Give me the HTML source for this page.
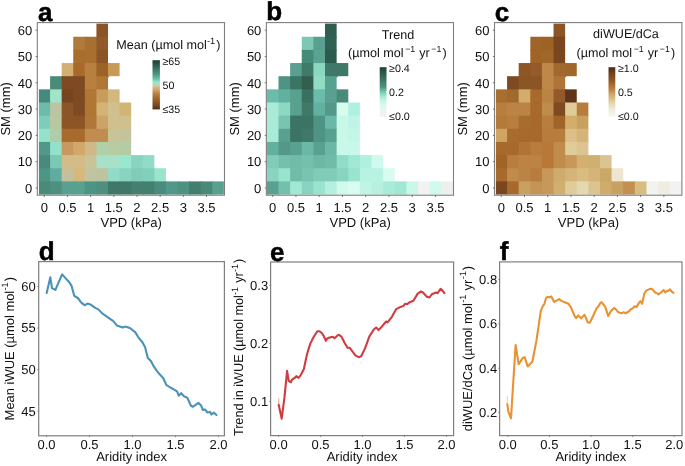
<!DOCTYPE html>
<html><head><meta charset="utf-8"><title>Figure</title>
<style>
html,body{margin:0;padding:0;background:#fff;}
body{width:685px;height:466px;overflow:hidden;font-family:"Liberation Sans", sans-serif;}
svg{display:block;will-change:transform;}
</style></head><body>
<svg width="685" height="466" viewBox="0 0 685 466" font-family='"Liberation Sans", sans-serif' fill="#111" text-rendering="geometricPrecision"><rect x="96.43" y="23.60" width="11.59" height="14.15" fill="#8A5428"/>
<rect x="73.25" y="36.75" width="12.59" height="14.15" fill="#B07A3A"/>
<rect x="84.84" y="36.75" width="12.59" height="14.15" fill="#A8702F"/>
<rect x="96.43" y="36.75" width="11.59" height="14.15" fill="#93592A"/>
<rect x="73.25" y="49.90" width="12.59" height="14.15" fill="#A86E2D"/>
<rect x="84.84" y="49.90" width="12.59" height="14.15" fill="#A86F30"/>
<rect x="96.43" y="49.90" width="11.59" height="14.15" fill="#8B5526"/>
<rect x="61.67" y="63.05" width="12.59" height="14.15" fill="#D2B072"/>
<rect x="73.25" y="63.05" width="12.59" height="14.15" fill="#A86A2A"/>
<rect x="84.84" y="63.05" width="12.59" height="14.15" fill="#B88040"/>
<rect x="96.43" y="63.05" width="12.59" height="14.15" fill="#9C6226"/>
<rect x="108.01" y="63.05" width="11.59" height="13.15" fill="#C89A58"/>
<rect x="50.09" y="76.20" width="12.59" height="14.15" fill="#4A8A78"/>
<rect x="61.67" y="76.20" width="12.59" height="14.15" fill="#7D4A24"/>
<rect x="73.25" y="76.20" width="12.59" height="14.15" fill="#7D4A24"/>
<rect x="84.84" y="76.20" width="12.59" height="14.15" fill="#B8803E"/>
<rect x="96.43" y="76.20" width="11.59" height="14.15" fill="#B07636"/>
<rect x="38.90" y="89.35" width="12.19" height="14.15" fill="#458A7A"/>
<rect x="50.09" y="89.35" width="12.59" height="14.15" fill="#A0E4CC"/>
<rect x="61.67" y="89.35" width="12.59" height="14.15" fill="#74451F"/>
<rect x="73.25" y="89.35" width="12.59" height="14.15" fill="#7D4A22"/>
<rect x="84.84" y="89.35" width="12.59" height="14.15" fill="#B07634"/>
<rect x="96.43" y="89.35" width="12.59" height="14.15" fill="#C89C5C"/>
<rect x="108.01" y="89.35" width="11.59" height="14.15" fill="#D2B87C"/>
<rect x="38.90" y="102.50" width="12.19" height="14.15" fill="#6CBCAC"/>
<rect x="50.09" y="102.50" width="12.59" height="14.15" fill="#BCC4A0"/>
<rect x="61.67" y="102.50" width="12.59" height="14.15" fill="#8B5528"/>
<rect x="73.25" y="102.50" width="12.59" height="14.15" fill="#7E4A22"/>
<rect x="84.84" y="102.50" width="12.59" height="14.15" fill="#B07634"/>
<rect x="96.43" y="102.50" width="12.59" height="14.15" fill="#D4B474"/>
<rect x="108.01" y="102.50" width="12.59" height="14.15" fill="#CFC08E"/>
<rect x="119.59" y="102.50" width="11.59" height="14.15" fill="#D2B474"/>
<rect x="38.90" y="115.65" width="12.19" height="14.15" fill="#7DCDB8"/>
<rect x="50.09" y="115.65" width="12.59" height="14.15" fill="#B8C8A0"/>
<rect x="61.67" y="115.65" width="12.59" height="14.15" fill="#8B5526"/>
<rect x="73.25" y="115.65" width="12.59" height="14.15" fill="#8B5526"/>
<rect x="84.84" y="115.65" width="12.59" height="14.15" fill="#B0763A"/>
<rect x="96.43" y="115.65" width="12.59" height="14.15" fill="#CCA468"/>
<rect x="108.01" y="115.65" width="12.59" height="14.15" fill="#CFC08E"/>
<rect x="119.59" y="115.65" width="11.59" height="14.15" fill="#CFC08E"/>
<rect x="38.90" y="128.80" width="12.19" height="14.15" fill="#93E3CB"/>
<rect x="50.09" y="128.80" width="12.59" height="14.15" fill="#B0CCA8"/>
<rect x="61.67" y="128.80" width="12.59" height="14.15" fill="#A86A2D"/>
<rect x="73.25" y="128.80" width="12.59" height="14.15" fill="#A86A2D"/>
<rect x="84.84" y="128.80" width="12.59" height="14.15" fill="#C08C50"/>
<rect x="96.43" y="128.80" width="12.59" height="14.15" fill="#C08C50"/>
<rect x="108.01" y="128.80" width="12.59" height="14.15" fill="#C8C498"/>
<rect x="119.59" y="128.80" width="11.59" height="14.15" fill="#C4C49C"/>
<rect x="38.90" y="141.95" width="12.19" height="14.15" fill="#509888"/>
<rect x="50.09" y="141.95" width="12.59" height="14.15" fill="#93E0CB"/>
<rect x="61.67" y="141.95" width="12.59" height="14.15" fill="#C89860"/>
<rect x="73.25" y="141.95" width="12.59" height="14.15" fill="#D0A868"/>
<rect x="84.84" y="141.95" width="12.59" height="14.15" fill="#D0B888"/>
<rect x="96.43" y="141.95" width="12.59" height="14.15" fill="#B0D0A8"/>
<rect x="108.01" y="141.95" width="12.59" height="14.15" fill="#B8CCA4"/>
<rect x="119.59" y="141.95" width="11.59" height="14.15" fill="#B4CCA4"/>
<rect x="38.90" y="155.10" width="12.19" height="14.15" fill="#4A8A7A"/>
<rect x="50.09" y="155.10" width="12.59" height="14.15" fill="#7BC8B4"/>
<rect x="61.67" y="155.10" width="12.59" height="14.15" fill="#D4BC88"/>
<rect x="73.25" y="155.10" width="12.59" height="14.15" fill="#D4BC88"/>
<rect x="84.84" y="155.10" width="12.59" height="14.15" fill="#C8C498"/>
<rect x="96.43" y="155.10" width="12.59" height="14.15" fill="#A8E0C8"/>
<rect x="108.01" y="155.10" width="12.59" height="14.15" fill="#A8E0C8"/>
<rect x="119.59" y="155.10" width="12.59" height="14.15" fill="#98E8D0"/>
<rect x="131.18" y="155.10" width="12.59" height="14.15" fill="#88D4C0"/>
<rect x="142.77" y="155.10" width="11.59" height="14.15" fill="#90DCC8"/>
<rect x="38.90" y="168.25" width="12.19" height="14.15" fill="#4E9585"/>
<rect x="50.09" y="168.25" width="12.59" height="14.15" fill="#60ADA0"/>
<rect x="61.67" y="168.25" width="12.59" height="14.15" fill="#C4C09C"/>
<rect x="73.25" y="168.25" width="12.59" height="14.15" fill="#D6B87C"/>
<rect x="84.84" y="168.25" width="12.59" height="14.15" fill="#C0C4A0"/>
<rect x="96.43" y="168.25" width="12.59" height="14.15" fill="#BCC4A0"/>
<rect x="108.01" y="168.25" width="12.59" height="14.15" fill="#90DCC8"/>
<rect x="119.59" y="168.25" width="12.59" height="14.15" fill="#88D4C0"/>
<rect x="131.18" y="168.25" width="12.59" height="14.15" fill="#80CCB8"/>
<rect x="142.77" y="168.25" width="12.59" height="14.15" fill="#80D0BC"/>
<rect x="154.35" y="168.25" width="11.59" height="14.15" fill="#98E4CC"/>
<rect x="38.90" y="181.40" width="12.19" height="13.15" fill="#4A8A78"/>
<rect x="50.09" y="181.40" width="12.59" height="13.15" fill="#4E9080"/>
<rect x="61.67" y="181.40" width="12.59" height="13.15" fill="#58A090"/>
<rect x="73.25" y="181.40" width="12.59" height="13.15" fill="#58A090"/>
<rect x="84.84" y="181.40" width="12.59" height="13.15" fill="#4E9484"/>
<rect x="96.43" y="181.40" width="12.59" height="13.15" fill="#4E9080"/>
<rect x="108.01" y="181.40" width="12.59" height="13.15" fill="#3F7868"/>
<rect x="119.59" y="181.40" width="12.59" height="13.15" fill="#3F7868"/>
<rect x="131.18" y="181.40" width="12.59" height="13.15" fill="#44806E"/>
<rect x="142.77" y="181.40" width="12.59" height="13.15" fill="#44806E"/>
<rect x="154.35" y="181.40" width="12.59" height="13.15" fill="#4A8C7C"/>
<rect x="165.94" y="181.40" width="12.59" height="13.15" fill="#52988A"/>
<rect x="177.52" y="181.40" width="12.59" height="13.15" fill="#4E9282"/>
<rect x="189.11" y="181.40" width="12.59" height="13.15" fill="#447E6E"/>
<rect x="200.69" y="181.40" width="12.59" height="13.15" fill="#4A8878"/>
<rect x="212.28" y="181.40" width="11.59" height="13.15" fill="#5AA08F"/>
<rect x="37.30" y="22.60" width="187.20" height="172.60" fill="none" stroke="#7f7f7f" stroke-width="1.1"/>
<line x1="35.70" y1="30.18" x2="37.30" y2="30.18" stroke="#555" stroke-width="0.8"/>
<text x="32.30" y="34.98" font-size="13" text-anchor="end" font-weight="normal" >60</text>
<line x1="35.70" y1="56.48" x2="37.30" y2="56.48" stroke="#555" stroke-width="0.8"/>
<text x="32.30" y="61.28" font-size="13" text-anchor="end" font-weight="normal" >50</text>
<line x1="35.70" y1="82.78" x2="37.30" y2="82.78" stroke="#555" stroke-width="0.8"/>
<text x="32.30" y="87.58" font-size="13" text-anchor="end" font-weight="normal" >40</text>
<line x1="35.70" y1="109.08" x2="37.30" y2="109.08" stroke="#555" stroke-width="0.8"/>
<text x="32.30" y="113.88" font-size="13" text-anchor="end" font-weight="normal" >30</text>
<line x1="35.70" y1="135.38" x2="37.30" y2="135.38" stroke="#555" stroke-width="0.8"/>
<text x="32.30" y="140.18" font-size="13" text-anchor="end" font-weight="normal" >20</text>
<line x1="35.70" y1="161.67" x2="37.30" y2="161.67" stroke="#555" stroke-width="0.8"/>
<text x="32.30" y="166.47" font-size="13" text-anchor="end" font-weight="normal" >10</text>
<line x1="35.70" y1="187.97" x2="37.30" y2="187.97" stroke="#555" stroke-width="0.8"/>
<text x="32.30" y="192.78" font-size="13" text-anchor="end" font-weight="normal" >0</text>
<line x1="44.29" y1="195.20" x2="44.29" y2="197.00" stroke="#555" stroke-width="0.8"/>
<text x="44.29" y="211.60" font-size="13" text-anchor="middle" font-weight="normal" >0</text>
<line x1="67.46" y1="195.20" x2="67.46" y2="197.00" stroke="#555" stroke-width="0.8"/>
<text x="67.46" y="211.60" font-size="13" text-anchor="middle" font-weight="normal" >0.5</text>
<line x1="90.63" y1="195.20" x2="90.63" y2="197.00" stroke="#555" stroke-width="0.8"/>
<text x="90.63" y="211.60" font-size="13" text-anchor="middle" font-weight="normal" >1</text>
<line x1="113.80" y1="195.20" x2="113.80" y2="197.00" stroke="#555" stroke-width="0.8"/>
<text x="113.80" y="211.60" font-size="13" text-anchor="middle" font-weight="normal" >1.5</text>
<line x1="136.97" y1="195.20" x2="136.97" y2="197.00" stroke="#555" stroke-width="0.8"/>
<text x="136.97" y="211.60" font-size="13" text-anchor="middle" font-weight="normal" >2</text>
<line x1="160.14" y1="195.20" x2="160.14" y2="197.00" stroke="#555" stroke-width="0.8"/>
<text x="160.14" y="211.60" font-size="13" text-anchor="middle" font-weight="normal" >2.5</text>
<line x1="183.31" y1="195.20" x2="183.31" y2="197.00" stroke="#555" stroke-width="0.8"/>
<text x="183.31" y="211.60" font-size="13" text-anchor="middle" font-weight="normal" >3</text>
<line x1="206.48" y1="195.20" x2="206.48" y2="197.00" stroke="#555" stroke-width="0.8"/>
<text x="206.48" y="211.60" font-size="13" text-anchor="middle" font-weight="normal" >3.5</text>
<text x="131.20" y="226.70" font-size="13" text-anchor="middle" font-weight="normal" >VPD (kPa)</text>
<text x="0" y="0" font-size="13" text-anchor="middle" transform="translate(9.80,108.90) rotate(-90)">SM (mm)</text>
<text x="37.90" y="20.60" font-size="26" text-anchor="start" font-weight="bold" fill="#000" stroke="#000" stroke-width="0.5">a</text>
<defs><linearGradient id="g0" x1="0" y1="0" x2="0" y2="1"><stop offset="0" stop-color="#1D3D35"/><stop offset="0.1" stop-color="#2A5A4C"/><stop offset="0.19" stop-color="#3A7868"/><stop offset="0.29" stop-color="#4E9886"/><stop offset="0.38" stop-color="#6CC0AA"/><stop offset="0.44" stop-color="#90E6CC"/><stop offset="0.49" stop-color="#B8D8B8"/><stop offset="0.53" stop-color="#D2C29C"/><stop offset="0.6" stop-color="#D0A466"/><stop offset="0.67" stop-color="#BC8444"/><stop offset="0.76" stop-color="#A86A2C"/><stop offset="0.86" stop-color="#8B5526"/><stop offset="0.95" stop-color="#6A3E1C"/><stop offset="1" stop-color="#4A2A12"/></linearGradient></defs>
<rect x="152.50" y="60.20" width="7.40" height="49.20" fill="url(#g0)"/>
<text x="162.50" y="64.50" font-size="10.7" text-anchor="start" font-weight="normal" >≥65</text>
<text x="162.50" y="89.00" font-size="10.7" text-anchor="start" font-weight="normal" >50</text>
<text x="162.50" y="112.90" font-size="10.7" text-anchor="start" font-weight="normal" >≤35</text>
<text x="116.20" y="49.20" font-size="12.6" text-anchor="start">Mean (µmol mol<tspan dx="0.3" dy="-5.6" font-size="9.2">-1</tspan><tspan dx="1.0" dy="5.6">)</tspan></text>
<rect x="325.01" y="23.60" width="11.63" height="14.15" fill="#2E5E50"/>
<rect x="301.76" y="36.75" width="12.63" height="14.15" fill="#7CC8B4"/>
<rect x="313.38" y="36.75" width="12.63" height="14.15" fill="#5AA090"/>
<rect x="325.01" y="36.75" width="11.63" height="14.15" fill="#2F6152"/>
<rect x="301.76" y="49.90" width="12.63" height="14.15" fill="#468A78"/>
<rect x="313.38" y="49.90" width="12.63" height="14.15" fill="#5AA292"/>
<rect x="325.01" y="49.90" width="11.63" height="14.15" fill="#2C5A4C"/>
<rect x="290.13" y="63.05" width="12.63" height="14.15" fill="#5AA090"/>
<rect x="301.76" y="63.05" width="12.63" height="14.15" fill="#3F7A6A"/>
<rect x="313.38" y="63.05" width="12.63" height="14.15" fill="#8AD8C0"/>
<rect x="325.01" y="63.05" width="12.63" height="14.15" fill="#3F7868"/>
<rect x="336.64" y="63.05" width="11.63" height="13.15" fill="#3F7868"/>
<rect x="278.51" y="76.20" width="12.63" height="14.15" fill="#4E9484"/>
<rect x="290.13" y="76.20" width="12.63" height="14.15" fill="#3C7464"/>
<rect x="301.76" y="76.20" width="12.63" height="14.15" fill="#345E50"/>
<rect x="313.38" y="76.20" width="12.63" height="14.15" fill="#90DCC4"/>
<rect x="325.01" y="76.20" width="11.63" height="14.15" fill="#58A090"/>
<rect x="266.90" y="89.35" width="12.61" height="14.15" fill="#6CBCAC"/>
<rect x="278.51" y="89.35" width="12.63" height="14.15" fill="#62B0A0"/>
<rect x="290.13" y="89.35" width="12.63" height="14.15" fill="#58A090"/>
<rect x="301.76" y="89.35" width="12.63" height="14.15" fill="#3A7060"/>
<rect x="313.38" y="89.35" width="12.63" height="14.15" fill="#6CBCAC"/>
<rect x="325.01" y="89.35" width="12.63" height="14.15" fill="#5AA090"/>
<rect x="336.64" y="89.35" width="11.63" height="14.15" fill="#4A8A78"/>
<rect x="266.90" y="102.50" width="12.61" height="14.15" fill="#A8ECD8"/>
<rect x="278.51" y="102.50" width="12.63" height="14.15" fill="#8CD8C0"/>
<rect x="290.13" y="102.50" width="12.63" height="14.15" fill="#58A090"/>
<rect x="301.76" y="102.50" width="12.63" height="14.15" fill="#3F7A68"/>
<rect x="313.38" y="102.50" width="12.63" height="14.15" fill="#62B0A0"/>
<rect x="325.01" y="102.50" width="12.63" height="14.15" fill="#54988A"/>
<rect x="336.64" y="102.50" width="12.63" height="14.15" fill="#D8FCEE"/>
<rect x="348.26" y="102.50" width="11.63" height="14.15" fill="#B0F0E0"/>
<rect x="266.90" y="115.65" width="12.61" height="14.15" fill="#A8ECD8"/>
<rect x="278.51" y="115.65" width="12.63" height="14.15" fill="#78C4B0"/>
<rect x="290.13" y="115.65" width="12.63" height="14.15" fill="#3C7464"/>
<rect x="301.76" y="115.65" width="12.63" height="14.15" fill="#3C7464"/>
<rect x="313.38" y="115.65" width="12.63" height="14.15" fill="#4E9484"/>
<rect x="325.01" y="115.65" width="12.63" height="14.15" fill="#6CB8A8"/>
<rect x="336.64" y="115.65" width="12.63" height="14.15" fill="#C8F8E8"/>
<rect x="348.26" y="115.65" width="11.63" height="14.15" fill="#C0F4E4"/>
<rect x="266.90" y="128.80" width="12.61" height="14.15" fill="#A8ECD8"/>
<rect x="278.51" y="128.80" width="12.63" height="14.15" fill="#5AA090"/>
<rect x="290.13" y="128.80" width="12.63" height="14.15" fill="#3C7464"/>
<rect x="301.76" y="128.80" width="12.63" height="14.15" fill="#3F7868"/>
<rect x="313.38" y="128.80" width="12.63" height="14.15" fill="#4E9484"/>
<rect x="325.01" y="128.80" width="12.63" height="14.15" fill="#58A090"/>
<rect x="336.64" y="128.80" width="12.63" height="14.15" fill="#C8F8E8"/>
<rect x="348.26" y="128.80" width="11.63" height="14.15" fill="#C4F6E6"/>
<rect x="266.90" y="141.95" width="12.61" height="14.15" fill="#62B0A0"/>
<rect x="278.51" y="141.95" width="12.63" height="14.15" fill="#54988A"/>
<rect x="290.13" y="141.95" width="12.63" height="14.15" fill="#58A090"/>
<rect x="301.76" y="141.95" width="12.63" height="14.15" fill="#6CB8A8"/>
<rect x="313.38" y="141.95" width="12.63" height="14.15" fill="#5AA090"/>
<rect x="325.01" y="141.95" width="12.63" height="14.15" fill="#6CB8A8"/>
<rect x="336.64" y="141.95" width="12.63" height="14.15" fill="#C8F8E8"/>
<rect x="348.26" y="141.95" width="11.63" height="14.15" fill="#C8F8E8"/>
<rect x="266.90" y="155.10" width="12.61" height="14.15" fill="#80CCB8"/>
<rect x="278.51" y="155.10" width="12.63" height="14.15" fill="#74C0AC"/>
<rect x="290.13" y="155.10" width="12.63" height="14.15" fill="#70BCA8"/>
<rect x="301.76" y="155.10" width="12.63" height="14.15" fill="#74C0AC"/>
<rect x="313.38" y="155.10" width="12.63" height="14.15" fill="#6CB8A8"/>
<rect x="325.01" y="155.10" width="12.63" height="14.15" fill="#70BCA8"/>
<rect x="336.64" y="155.10" width="12.63" height="14.15" fill="#90DCC8"/>
<rect x="348.26" y="155.10" width="12.63" height="14.15" fill="#A0E8D4"/>
<rect x="359.89" y="155.10" width="12.63" height="14.15" fill="#B0F0E0"/>
<rect x="371.51" y="155.10" width="11.63" height="14.15" fill="#D0FAEE"/>
<rect x="266.90" y="168.25" width="12.61" height="14.15" fill="#88D4C0"/>
<rect x="278.51" y="168.25" width="12.63" height="14.15" fill="#98E4CC"/>
<rect x="290.13" y="168.25" width="12.63" height="14.15" fill="#70BCA8"/>
<rect x="301.76" y="168.25" width="12.63" height="14.15" fill="#78C4B0"/>
<rect x="313.38" y="168.25" width="12.63" height="14.15" fill="#80CCB8"/>
<rect x="325.01" y="168.25" width="12.63" height="14.15" fill="#80CCB8"/>
<rect x="336.64" y="168.25" width="12.63" height="14.15" fill="#88D4C0"/>
<rect x="348.26" y="168.25" width="12.63" height="14.15" fill="#98E4CC"/>
<rect x="359.89" y="168.25" width="12.63" height="14.15" fill="#B8F2E2"/>
<rect x="371.51" y="168.25" width="12.63" height="14.15" fill="#B8F2E2"/>
<rect x="383.14" y="168.25" width="11.63" height="14.15" fill="#D8FCF0"/>
<rect x="266.90" y="181.40" width="12.61" height="13.15" fill="#5AA090"/>
<rect x="278.51" y="181.40" width="12.63" height="13.15" fill="#74C0AC"/>
<rect x="290.13" y="181.40" width="12.63" height="13.15" fill="#A0E8D4"/>
<rect x="301.76" y="181.40" width="12.63" height="13.15" fill="#88D4C0"/>
<rect x="313.38" y="181.40" width="12.63" height="13.15" fill="#98E4CC"/>
<rect x="325.01" y="181.40" width="12.63" height="13.15" fill="#B4F0E0"/>
<rect x="336.64" y="181.40" width="12.63" height="13.15" fill="#D0FAEC"/>
<rect x="348.26" y="181.40" width="12.63" height="13.15" fill="#D8FCF0"/>
<rect x="359.89" y="181.40" width="12.63" height="13.15" fill="#C0F4E4"/>
<rect x="371.51" y="181.40" width="12.63" height="13.15" fill="#B8F0E0"/>
<rect x="383.14" y="181.40" width="12.63" height="13.15" fill="#A8ECD8"/>
<rect x="394.77" y="181.40" width="12.63" height="13.15" fill="#A0E8D4"/>
<rect x="406.39" y="181.40" width="12.63" height="13.15" fill="#C8F8E8"/>
<rect x="418.02" y="181.40" width="12.63" height="13.15" fill="#F2F2F0"/>
<rect x="429.64" y="181.40" width="12.63" height="13.15" fill="#D0FAEE"/>
<rect x="441.27" y="181.40" width="11.63" height="13.15" fill="#EEF0EE"/>
<rect x="266.35" y="22.60" width="187.15" height="172.60" fill="none" stroke="#7f7f7f" stroke-width="1.1"/>
<line x1="264.75" y1="30.18" x2="266.35" y2="30.18" stroke="#555" stroke-width="0.8"/>
<text x="261.35" y="34.98" font-size="13" text-anchor="end" font-weight="normal" >60</text>
<line x1="264.75" y1="56.48" x2="266.35" y2="56.48" stroke="#555" stroke-width="0.8"/>
<text x="261.35" y="61.28" font-size="13" text-anchor="end" font-weight="normal" >50</text>
<line x1="264.75" y1="82.78" x2="266.35" y2="82.78" stroke="#555" stroke-width="0.8"/>
<text x="261.35" y="87.58" font-size="13" text-anchor="end" font-weight="normal" >40</text>
<line x1="264.75" y1="109.08" x2="266.35" y2="109.08" stroke="#555" stroke-width="0.8"/>
<text x="261.35" y="113.88" font-size="13" text-anchor="end" font-weight="normal" >30</text>
<line x1="264.75" y1="135.38" x2="266.35" y2="135.38" stroke="#555" stroke-width="0.8"/>
<text x="261.35" y="140.18" font-size="13" text-anchor="end" font-weight="normal" >20</text>
<line x1="264.75" y1="161.67" x2="266.35" y2="161.67" stroke="#555" stroke-width="0.8"/>
<text x="261.35" y="166.47" font-size="13" text-anchor="end" font-weight="normal" >10</text>
<line x1="264.75" y1="187.97" x2="266.35" y2="187.97" stroke="#555" stroke-width="0.8"/>
<text x="261.35" y="192.78" font-size="13" text-anchor="end" font-weight="normal" >0</text>
<line x1="272.69" y1="195.20" x2="272.69" y2="197.00" stroke="#555" stroke-width="0.8"/>
<text x="272.69" y="211.60" font-size="13" text-anchor="middle" font-weight="normal" >0</text>
<line x1="295.94" y1="195.20" x2="295.94" y2="197.00" stroke="#555" stroke-width="0.8"/>
<text x="295.94" y="211.60" font-size="13" text-anchor="middle" font-weight="normal" >0.5</text>
<line x1="319.20" y1="195.20" x2="319.20" y2="197.00" stroke="#555" stroke-width="0.8"/>
<text x="319.20" y="211.60" font-size="13" text-anchor="middle" font-weight="normal" >1</text>
<line x1="342.45" y1="195.20" x2="342.45" y2="197.00" stroke="#555" stroke-width="0.8"/>
<text x="342.45" y="211.60" font-size="13" text-anchor="middle" font-weight="normal" >1.5</text>
<line x1="365.70" y1="195.20" x2="365.70" y2="197.00" stroke="#555" stroke-width="0.8"/>
<text x="365.70" y="211.60" font-size="13" text-anchor="middle" font-weight="normal" >2</text>
<line x1="388.95" y1="195.20" x2="388.95" y2="197.00" stroke="#555" stroke-width="0.8"/>
<text x="388.95" y="211.60" font-size="13" text-anchor="middle" font-weight="normal" >2.5</text>
<line x1="412.20" y1="195.20" x2="412.20" y2="197.00" stroke="#555" stroke-width="0.8"/>
<text x="412.20" y="211.60" font-size="13" text-anchor="middle" font-weight="normal" >3</text>
<line x1="435.46" y1="195.20" x2="435.46" y2="197.00" stroke="#555" stroke-width="0.8"/>
<text x="435.46" y="211.60" font-size="13" text-anchor="middle" font-weight="normal" >3.5</text>
<text x="360.23" y="226.70" font-size="13" text-anchor="middle" font-weight="normal" >VPD (kPa)</text>
<text x="0" y="0" font-size="13" text-anchor="middle" transform="translate(238.85,108.90) rotate(-90)">SM (mm)</text>
<text x="266.28" y="19.60" font-size="26" text-anchor="start" font-weight="bold" fill="#000" stroke="#000" stroke-width="0.5">b</text>
<defs><linearGradient id="g1" x1="0" y1="0" x2="0" y2="1"><stop offset="0" stop-color="#1E4236"/><stop offset="0.1" stop-color="#2A5648"/><stop offset="0.25" stop-color="#3C7462"/><stop offset="0.4" stop-color="#4E9482"/><stop offset="0.5" stop-color="#7ACAB2"/><stop offset="0.6" stop-color="#AAECD6"/><stop offset="0.7" stop-color="#CEF7E9"/><stop offset="0.8" stop-color="#E0F8EE"/><stop offset="0.9" stop-color="#EEF4F0"/><stop offset="1" stop-color="#F3F3F3"/></linearGradient></defs>
<rect x="379.70" y="67.20" width="6.80" height="49.70" fill="url(#g1)"/>
<text x="389.10" y="71.90" font-size="10.7" text-anchor="start" font-weight="normal" >≥0.4</text>
<text x="389.10" y="95.50" font-size="10.7" text-anchor="start" font-weight="normal" >0.2</text>
<text x="389.10" y="120.40" font-size="10.7" text-anchor="start" font-weight="normal" >≤0.0</text>
<text x="398.00" y="38.90" font-size="12.6" text-anchor="middle">Trend</text>
<text x="397.30" y="56.60" font-size="12.6" text-anchor="middle">(µmol mol<tspan dx="1.6" dy="-4.3" font-size="8.8">−1</tspan><tspan dx="0.6" dy="4.3"> yr</tspan><tspan dx="1.6" dy="-4.3" font-size="8.8">−1</tspan><tspan dx="1.0" dy="4.3">)</tspan></text>
<rect x="553.53" y="23.60" width="11.61" height="14.15" fill="#8B5526"/>
<rect x="530.30" y="36.75" width="12.61" height="14.15" fill="#A06428"/>
<rect x="541.92" y="36.75" width="12.61" height="14.15" fill="#9C6226"/>
<rect x="553.53" y="36.75" width="11.61" height="14.15" fill="#7A4620"/>
<rect x="530.30" y="49.90" width="12.61" height="14.15" fill="#A06428"/>
<rect x="541.92" y="49.90" width="12.61" height="14.15" fill="#A0662A"/>
<rect x="553.53" y="49.90" width="11.61" height="14.15" fill="#7A4620"/>
<rect x="518.69" y="63.05" width="12.61" height="14.15" fill="#8E5527"/>
<rect x="530.30" y="63.05" width="12.61" height="14.15" fill="#955A28"/>
<rect x="541.92" y="63.05" width="12.61" height="14.15" fill="#C08848"/>
<rect x="553.53" y="63.05" width="12.61" height="14.15" fill="#A06A2E"/>
<rect x="565.14" y="63.05" width="11.61" height="13.15" fill="#A0662A"/>
<rect x="507.07" y="76.20" width="12.61" height="14.15" fill="#7E4A24"/>
<rect x="518.69" y="76.20" width="12.61" height="14.15" fill="#8B5526"/>
<rect x="530.30" y="76.20" width="12.61" height="14.15" fill="#8B5526"/>
<rect x="541.92" y="76.20" width="12.61" height="14.15" fill="#C08848"/>
<rect x="553.53" y="76.20" width="11.61" height="14.15" fill="#B07438"/>
<rect x="495.90" y="89.35" width="12.17" height="14.15" fill="#A86E30"/>
<rect x="507.07" y="89.35" width="12.61" height="14.15" fill="#A06A2E"/>
<rect x="518.69" y="89.35" width="12.61" height="14.15" fill="#D4AC6C"/>
<rect x="530.30" y="89.35" width="12.61" height="14.15" fill="#A86A2C"/>
<rect x="541.92" y="89.35" width="12.61" height="14.15" fill="#BC8444"/>
<rect x="553.53" y="89.35" width="12.61" height="14.15" fill="#93592A"/>
<rect x="565.14" y="89.35" width="11.61" height="14.15" fill="#5E3518"/>
<rect x="495.90" y="102.50" width="12.17" height="14.15" fill="#B87E40"/>
<rect x="507.07" y="102.50" width="12.61" height="14.15" fill="#BC8444"/>
<rect x="518.69" y="102.50" width="12.61" height="14.15" fill="#BC8444"/>
<rect x="530.30" y="102.50" width="12.61" height="14.15" fill="#A86A2C"/>
<rect x="541.92" y="102.50" width="12.61" height="14.15" fill="#C08C4C"/>
<rect x="553.53" y="102.50" width="12.61" height="14.15" fill="#7E4A22"/>
<rect x="565.14" y="102.50" width="12.61" height="14.15" fill="#E0CC98"/>
<rect x="576.76" y="102.50" width="11.61" height="14.15" fill="#B87C3C"/>
<rect x="495.90" y="115.65" width="12.17" height="14.15" fill="#B47A3A"/>
<rect x="507.07" y="115.65" width="12.61" height="14.15" fill="#B87E40"/>
<rect x="518.69" y="115.65" width="12.61" height="14.15" fill="#A86C2E"/>
<rect x="530.30" y="115.65" width="12.61" height="14.15" fill="#A86A2C"/>
<rect x="541.92" y="115.65" width="12.61" height="14.15" fill="#B87E40"/>
<rect x="553.53" y="115.65" width="12.61" height="14.15" fill="#A06428"/>
<rect x="565.14" y="115.65" width="12.61" height="14.15" fill="#D4AC6C"/>
<rect x="576.76" y="115.65" width="11.61" height="14.15" fill="#C8A060"/>
<rect x="495.90" y="128.80" width="12.17" height="14.15" fill="#D0A464"/>
<rect x="507.07" y="128.80" width="12.61" height="14.15" fill="#A86C2E"/>
<rect x="518.69" y="128.80" width="12.61" height="14.15" fill="#A86A2C"/>
<rect x="530.30" y="128.80" width="12.61" height="14.15" fill="#A86A2C"/>
<rect x="541.92" y="128.80" width="12.61" height="14.15" fill="#B87C3C"/>
<rect x="553.53" y="128.80" width="12.61" height="14.15" fill="#B87C3C"/>
<rect x="565.14" y="128.80" width="12.61" height="14.15" fill="#DCC088"/>
<rect x="576.76" y="128.80" width="11.61" height="14.15" fill="#D4B478"/>
<rect x="495.90" y="141.95" width="12.17" height="14.15" fill="#A86A2C"/>
<rect x="507.07" y="141.95" width="12.61" height="14.15" fill="#A86A2C"/>
<rect x="518.69" y="141.95" width="12.61" height="14.15" fill="#B07436"/>
<rect x="530.30" y="141.95" width="12.61" height="14.15" fill="#B87C3C"/>
<rect x="541.92" y="141.95" width="12.61" height="14.15" fill="#B87838"/>
<rect x="553.53" y="141.95" width="12.61" height="14.15" fill="#C08C4C"/>
<rect x="565.14" y="141.95" width="12.61" height="14.15" fill="#E0CC98"/>
<rect x="576.76" y="141.95" width="11.61" height="14.15" fill="#DCC490"/>
<rect x="495.90" y="155.10" width="12.17" height="14.15" fill="#A06428"/>
<rect x="507.07" y="155.10" width="12.61" height="14.15" fill="#B87E40"/>
<rect x="518.69" y="155.10" width="12.61" height="14.15" fill="#BC8444"/>
<rect x="530.30" y="155.10" width="12.61" height="14.15" fill="#BC8444"/>
<rect x="541.92" y="155.10" width="12.61" height="14.15" fill="#B87838"/>
<rect x="553.53" y="155.10" width="12.61" height="14.15" fill="#C08C4C"/>
<rect x="565.14" y="155.10" width="12.61" height="14.15" fill="#C89858"/>
<rect x="576.76" y="155.10" width="12.61" height="14.15" fill="#D4B070"/>
<rect x="588.37" y="155.10" width="12.61" height="14.15" fill="#D0B070"/>
<rect x="599.99" y="155.10" width="11.61" height="14.15" fill="#DCC490"/>
<rect x="495.90" y="168.25" width="12.17" height="14.15" fill="#A86A2C"/>
<rect x="507.07" y="168.25" width="12.61" height="14.15" fill="#C08C4C"/>
<rect x="518.69" y="168.25" width="12.61" height="14.15" fill="#BC8444"/>
<rect x="530.30" y="168.25" width="12.61" height="14.15" fill="#B87C3C"/>
<rect x="541.92" y="168.25" width="12.61" height="14.15" fill="#C8985A"/>
<rect x="553.53" y="168.25" width="12.61" height="14.15" fill="#D0AC6C"/>
<rect x="565.14" y="168.25" width="12.61" height="14.15" fill="#D4B478"/>
<rect x="576.76" y="168.25" width="12.61" height="14.15" fill="#D8BC80"/>
<rect x="588.37" y="168.25" width="12.61" height="14.15" fill="#D4B478"/>
<rect x="599.99" y="168.25" width="12.61" height="14.15" fill="#CCA868"/>
<rect x="611.60" y="168.25" width="11.61" height="14.15" fill="#EEE6D0"/>
<rect x="495.90" y="181.40" width="12.17" height="13.15" fill="#7A4620"/>
<rect x="507.07" y="181.40" width="12.61" height="13.15" fill="#A86A2C"/>
<rect x="518.69" y="181.40" width="12.61" height="13.15" fill="#C8A060"/>
<rect x="530.30" y="181.40" width="12.61" height="13.15" fill="#C49454"/>
<rect x="541.92" y="181.40" width="12.61" height="13.15" fill="#C8985A"/>
<rect x="553.53" y="181.40" width="12.61" height="13.15" fill="#D0B070"/>
<rect x="565.14" y="181.40" width="12.61" height="13.15" fill="#E0CC98"/>
<rect x="576.76" y="181.40" width="12.61" height="13.15" fill="#E4D8B0"/>
<rect x="588.37" y="181.40" width="12.61" height="13.15" fill="#DCC490"/>
<rect x="599.99" y="181.40" width="12.61" height="13.15" fill="#D0AC6C"/>
<rect x="611.60" y="181.40" width="12.61" height="13.15" fill="#C8A060"/>
<rect x="623.21" y="181.40" width="12.61" height="13.15" fill="#C49050"/>
<rect x="634.83" y="181.40" width="12.61" height="13.15" fill="#D8BC80"/>
<rect x="646.44" y="181.40" width="12.61" height="13.15" fill="#F2F2F0"/>
<rect x="658.06" y="181.40" width="12.61" height="13.15" fill="#F0ECE0"/>
<rect x="669.67" y="181.40" width="11.61" height="13.15" fill="#F2F2F2"/>
<rect x="494.50" y="22.60" width="187.40" height="172.60" fill="none" stroke="#7f7f7f" stroke-width="1.1"/>
<line x1="492.90" y1="30.18" x2="494.50" y2="30.18" stroke="#555" stroke-width="0.8"/>
<text x="489.50" y="34.98" font-size="13" text-anchor="end" font-weight="normal" >60</text>
<line x1="492.90" y1="56.48" x2="494.50" y2="56.48" stroke="#555" stroke-width="0.8"/>
<text x="489.50" y="61.28" font-size="13" text-anchor="end" font-weight="normal" >50</text>
<line x1="492.90" y1="82.78" x2="494.50" y2="82.78" stroke="#555" stroke-width="0.8"/>
<text x="489.50" y="87.58" font-size="13" text-anchor="end" font-weight="normal" >40</text>
<line x1="492.90" y1="109.08" x2="494.50" y2="109.08" stroke="#555" stroke-width="0.8"/>
<text x="489.50" y="113.88" font-size="13" text-anchor="end" font-weight="normal" >30</text>
<line x1="492.90" y1="135.38" x2="494.50" y2="135.38" stroke="#555" stroke-width="0.8"/>
<text x="489.50" y="140.18" font-size="13" text-anchor="end" font-weight="normal" >20</text>
<line x1="492.90" y1="161.67" x2="494.50" y2="161.67" stroke="#555" stroke-width="0.8"/>
<text x="489.50" y="166.47" font-size="13" text-anchor="end" font-weight="normal" >10</text>
<line x1="492.90" y1="187.97" x2="494.50" y2="187.97" stroke="#555" stroke-width="0.8"/>
<text x="489.50" y="192.78" font-size="13" text-anchor="end" font-weight="normal" >0</text>
<line x1="501.27" y1="195.20" x2="501.27" y2="197.00" stroke="#555" stroke-width="0.8"/>
<text x="501.27" y="211.60" font-size="13" text-anchor="middle" font-weight="normal" >0</text>
<line x1="524.50" y1="195.20" x2="524.50" y2="197.00" stroke="#555" stroke-width="0.8"/>
<text x="524.50" y="211.60" font-size="13" text-anchor="middle" font-weight="normal" >0.5</text>
<line x1="547.72" y1="195.20" x2="547.72" y2="197.00" stroke="#555" stroke-width="0.8"/>
<text x="547.72" y="211.60" font-size="13" text-anchor="middle" font-weight="normal" >1</text>
<line x1="570.95" y1="195.20" x2="570.95" y2="197.00" stroke="#555" stroke-width="0.8"/>
<text x="570.95" y="211.60" font-size="13" text-anchor="middle" font-weight="normal" >1.5</text>
<line x1="594.18" y1="195.20" x2="594.18" y2="197.00" stroke="#555" stroke-width="0.8"/>
<text x="594.18" y="211.60" font-size="13" text-anchor="middle" font-weight="normal" >2</text>
<line x1="617.41" y1="195.20" x2="617.41" y2="197.00" stroke="#555" stroke-width="0.8"/>
<text x="617.41" y="211.60" font-size="13" text-anchor="middle" font-weight="normal" >2.5</text>
<line x1="640.63" y1="195.20" x2="640.63" y2="197.00" stroke="#555" stroke-width="0.8"/>
<text x="640.63" y="211.60" font-size="13" text-anchor="middle" font-weight="normal" >3</text>
<line x1="663.86" y1="195.20" x2="663.86" y2="197.00" stroke="#555" stroke-width="0.8"/>
<text x="663.86" y="211.60" font-size="13" text-anchor="middle" font-weight="normal" >3.5</text>
<text x="588.50" y="226.70" font-size="13" text-anchor="middle" font-weight="normal" >VPD (kPa)</text>
<text x="0" y="0" font-size="13" text-anchor="middle" transform="translate(467.00,108.90) rotate(-90)">SM (mm)</text>
<text x="494.86" y="20.60" font-size="26" text-anchor="start" font-weight="bold" fill="#000" stroke="#000" stroke-width="0.5">c</text>
<defs><linearGradient id="g2" x1="0" y1="0" x2="0" y2="1"><stop offset="0" stop-color="#4E2C14"/><stop offset="0.1" stop-color="#6A3E1C"/><stop offset="0.25" stop-color="#8B5526"/><stop offset="0.35" stop-color="#A86A2C"/><stop offset="0.45" stop-color="#BC8444"/><stop offset="0.55" stop-color="#D0A868"/><stop offset="0.65" stop-color="#DCC48E"/><stop offset="0.75" stop-color="#E8DCB4"/><stop offset="0.85" stop-color="#F0EAD8"/><stop offset="1" stop-color="#F6F6F4"/></linearGradient></defs>
<rect x="608.50" y="67.20" width="6.80" height="49.60" fill="url(#g2)"/>
<text x="617.90" y="71.90" font-size="10.7" text-anchor="start" font-weight="normal" >≥1.0</text>
<text x="617.90" y="95.50" font-size="10.7" text-anchor="start" font-weight="normal" >0.5</text>
<text x="617.90" y="120.40" font-size="10.7" text-anchor="start" font-weight="normal" >≤0.0</text>
<text x="626.00" y="38.40" font-size="12.6" text-anchor="middle">diWUE/dCa</text>
<text x="625.80" y="56.60" font-size="12.6" text-anchor="middle">(µmol mol<tspan dx="1.6" dy="-4.3" font-size="8.8">−1</tspan><tspan dx="0.6" dy="4.3"> yr</tspan><tspan dx="1.6" dy="-4.3" font-size="8.8">−1</tspan><tspan dx="1.0" dy="4.3">)</tspan></text>
<polyline points="46.7,293.1 50.3,277.3 52.0,288.0 55.4,289.9 62.1,274.4 69.5,282.5 71.6,285.9 74.3,295.9 77.8,298.0 81.5,302.8 84.6,305.2 87.6,303.6 91.0,304.8 95.3,307.9 98.7,309.6 102.2,313.4 109.0,318.2 113.3,321.2 116.8,325.4 122.8,327.5 124.5,326.8 126.4,326.8 130.3,328.3 135.4,332.4 138.0,336.8 142.6,342.5 145.2,347.6 147.8,357.9 150.9,361.0 153.5,365.9 156.8,370.8 159.9,374.6 163.2,378.0 166.3,384.9 170.2,387.5 172.8,388.8 177.1,391.4 178.7,395.7 181.2,393.2 184.3,396.5 187.4,397.8 190.8,405.5 192.8,406.8 198.5,402.9 201.1,405.5 202.9,410.1 204.9,409.4 207.5,412.5 210.1,411.9 211.4,414.5 213.9,412.7 216.5,415.0" fill="none" stroke="#4B92BA" stroke-width="2.1" stroke-linejoin="round" stroke-linecap="round"/>
<rect x="38.70" y="261.60" width="185.70" height="174.20" fill="none" stroke="#7f7f7f" stroke-width="1.2"/>
<line x1="37.30" y1="286.50" x2="38.70" y2="286.50" stroke="#666" stroke-width="0.7"/>
<text x="35.80" y="290.90" font-size="13" text-anchor="end" font-weight="normal" >60</text>
<line x1="37.30" y1="328.00" x2="38.70" y2="328.00" stroke="#666" stroke-width="0.7"/>
<text x="35.80" y="332.40" font-size="13" text-anchor="end" font-weight="normal" >55</text>
<line x1="37.30" y1="369.60" x2="38.70" y2="369.60" stroke="#666" stroke-width="0.7"/>
<text x="35.80" y="374.00" font-size="13" text-anchor="end" font-weight="normal" >50</text>
<line x1="37.30" y1="411.20" x2="38.70" y2="411.20" stroke="#666" stroke-width="0.7"/>
<text x="35.80" y="415.60" font-size="13" text-anchor="end" font-weight="normal" >45</text>
<line x1="46.50" y1="435.80" x2="46.50" y2="437.20" stroke="#666" stroke-width="0.7"/>
<text x="46.50" y="449.00" font-size="13" text-anchor="middle" font-weight="normal" >0.0</text>
<line x1="89.50" y1="435.80" x2="89.50" y2="437.20" stroke="#666" stroke-width="0.7"/>
<text x="89.50" y="449.00" font-size="13" text-anchor="middle" font-weight="normal" >0.5</text>
<line x1="132.50" y1="435.80" x2="132.50" y2="437.20" stroke="#666" stroke-width="0.7"/>
<text x="132.50" y="449.00" font-size="13" text-anchor="middle" font-weight="normal" >1.0</text>
<line x1="175.50" y1="435.80" x2="175.50" y2="437.20" stroke="#666" stroke-width="0.7"/>
<text x="175.50" y="449.00" font-size="13" text-anchor="middle" font-weight="normal" >1.5</text>
<line x1="218.50" y1="435.80" x2="218.50" y2="437.20" stroke="#666" stroke-width="0.7"/>
<text x="218.50" y="449.00" font-size="13" text-anchor="middle" font-weight="normal" >2.0</text>
<text x="131.55" y="461.20" font-size="13" text-anchor="middle" font-weight="normal" >Aridity index</text>
<text x="38.80" y="260.30" font-size="26" text-anchor="start" font-weight="bold" fill="#000" stroke="#000" stroke-width="0.5">d</text>
<text x="0" y="0" font-size="13" text-anchor="middle" transform="translate(14.00,348.70) rotate(-90) scale(0.995,1)">Mean iWUE (µmol mol<tspan dx="0.3" dy="-5.6" font-size="9.2">-1</tspan><tspan dx="1.0" dy="5.6">)</tspan></text>
<line x1="278.7" y1="404.7" x2="278.7" y2="398.2" stroke="#CF3D41" stroke-opacity="0.35" stroke-width="1.4"/>
<polyline points="278.7,404.7 281.7,418.7 284.5,397.2 287.1,370.8 288.8,381.1 291.0,382.2 292.0,379.6 295.2,377.5 296.3,376.2 298.5,377.9 300.6,375.3 303.8,369.3 307.0,354.3 310.3,343.6 313.5,337.2 317.3,331.2 319.5,331.2 322.0,333.3 323.8,336.1 325.9,340.8 327.4,338.2 330.6,337.2 332.8,336.7 334.5,338.2 337.5,335.4 338.9,334.8 341.4,336.6 344.7,343.0 347.5,347.7 349.6,347.7 352.2,351.2 355.4,355.4 358.6,357.2 361.2,356.3 365.0,348.4 369.3,336.6 373.6,329.7 376.2,327.5 378.6,330.1 382.2,326.2 386.1,321.5 387.6,322.4 391.9,316.8 396.2,309.1 400.5,306.9 403.3,306.1 405.2,303.7 406.9,304.3 409.7,302.2 413.4,300.7 417.7,293.6 420.9,291.5 423.0,292.5 426.9,296.8 429.5,297.5 432.0,294.0 434.2,293.2 435.9,292.5 437.6,293.2 440.6,288.9 442.3,290.4 444.5,293.2" fill="none" stroke="#CF3D41" stroke-width="2.1" stroke-linejoin="round" stroke-linecap="round"/>
<rect x="270.60" y="262.00" width="183.00" height="173.60" fill="none" stroke="#7f7f7f" stroke-width="1.2"/>
<line x1="269.20" y1="285.30" x2="270.60" y2="285.30" stroke="#666" stroke-width="0.7"/>
<text x="268.20" y="289.70" font-size="13" text-anchor="end" font-weight="normal" >0.3</text>
<line x1="269.20" y1="343.40" x2="270.60" y2="343.40" stroke="#666" stroke-width="0.7"/>
<text x="268.20" y="347.80" font-size="13" text-anchor="end" font-weight="normal" >0.2</text>
<line x1="269.20" y1="401.40" x2="270.60" y2="401.40" stroke="#666" stroke-width="0.7"/>
<text x="268.20" y="405.80" font-size="13" text-anchor="end" font-weight="normal" >0.1</text>
<line x1="278.60" y1="435.60" x2="278.60" y2="437.00" stroke="#666" stroke-width="0.7"/>
<text x="278.60" y="449.00" font-size="13" text-anchor="middle" font-weight="normal" >0.0</text>
<line x1="320.58" y1="435.60" x2="320.58" y2="437.00" stroke="#666" stroke-width="0.7"/>
<text x="320.58" y="449.00" font-size="13" text-anchor="middle" font-weight="normal" >0.5</text>
<line x1="362.55" y1="435.60" x2="362.55" y2="437.00" stroke="#666" stroke-width="0.7"/>
<text x="362.55" y="449.00" font-size="13" text-anchor="middle" font-weight="normal" >1.0</text>
<line x1="404.53" y1="435.60" x2="404.53" y2="437.00" stroke="#666" stroke-width="0.7"/>
<text x="404.53" y="449.00" font-size="13" text-anchor="middle" font-weight="normal" >1.5</text>
<line x1="446.50" y1="435.60" x2="446.50" y2="437.00" stroke="#666" stroke-width="0.7"/>
<text x="446.50" y="449.00" font-size="13" text-anchor="middle" font-weight="normal" >2.0</text>
<text x="362.10" y="461.20" font-size="13" text-anchor="middle" font-weight="normal" >Aridity index</text>
<text x="270.10" y="261.00" font-size="26" text-anchor="start" font-weight="bold" fill="#000" stroke="#000" stroke-width="0.5">e</text>
<text x="0" y="0" font-size="13" text-anchor="middle" transform="translate(243.40,347.50) rotate(-90) scale(0.972,1)">Trend in iWUE (µmol mol<tspan dx="0.3" dy="-5.6" font-size="9.2">-1</tspan><tspan dx="0.6" dy="5.6"> yr</tspan><tspan dx="0.3" dy="-5.6" font-size="9.2">-1</tspan><tspan dx="1.0" dy="5.6">)</tspan></text>
<line x1="507.3" y1="404.2" x2="507.3" y2="395.7" stroke="#E99233" stroke-opacity="0.35" stroke-width="1.4"/>
<polyline points="507.3,404.2 508.4,411.9 511.0,418.3 515.6,345.0 518.7,364.3 522.8,357.9 524.6,357.1 527.7,366.4 532.3,361.7 536.3,341.5 540.8,310.9 542.7,306.4 544.3,304.2 546.0,298.0 547.6,296.7 549.2,297.4 551.1,296.4 554.3,301.9 556.9,300.4 559.2,299.1 561.4,300.9 565.3,302.5 568.5,303.8 570.8,307.1 574.9,316.5 576.2,318.0 578.2,315.4 581.1,318.3 584.6,314.8 587.8,322.5 589.8,322.8 593.0,316.3 596.6,308.3 597.9,307.1 600.7,302.5 601.7,302.2 605.2,306.8 608.2,316.1 610.8,311.2 614.0,308.0 615.3,308.6 617.9,311.9 621.1,313.2 623.7,312.3 625.6,313.2 628.8,311.5 630.8,309.3 632.7,308.4 634.6,306.3 636.6,307.1 638.8,302.9 640.4,301.2 642.1,303.8 644.3,293.8 646.2,290.6 649.4,289.1 651.6,288.7 653.3,290.4 655.2,292.5 657.2,293.2 658.5,294.5 661.0,292.5 663.6,290.0 665.3,292.5 666.8,290.9 668.8,290.6 670.1,289.3 671.7,291.6 673.5,292.9" fill="none" stroke="#E99233" stroke-width="2.1" stroke-linejoin="round" stroke-linecap="round"/>
<rect x="499.60" y="261.90" width="182.40" height="173.70" fill="none" stroke="#7f7f7f" stroke-width="1.2"/>
<line x1="498.20" y1="279.30" x2="499.60" y2="279.30" stroke="#666" stroke-width="0.7"/>
<text x="497.20" y="283.70" font-size="13" text-anchor="end" font-weight="normal" >0.8</text>
<line x1="498.20" y1="323.80" x2="499.60" y2="323.80" stroke="#666" stroke-width="0.7"/>
<text x="497.20" y="328.20" font-size="13" text-anchor="end" font-weight="normal" >0.6</text>
<line x1="498.20" y1="368.20" x2="499.60" y2="368.20" stroke="#666" stroke-width="0.7"/>
<text x="497.20" y="372.60" font-size="13" text-anchor="end" font-weight="normal" >0.4</text>
<line x1="498.20" y1="412.40" x2="499.60" y2="412.40" stroke="#666" stroke-width="0.7"/>
<text x="497.20" y="416.80" font-size="13" text-anchor="end" font-weight="normal" >0.2</text>
<line x1="507.80" y1="435.60" x2="507.80" y2="437.00" stroke="#666" stroke-width="0.7"/>
<text x="507.80" y="449.00" font-size="13" text-anchor="middle" font-weight="normal" >0.0</text>
<line x1="549.40" y1="435.60" x2="549.40" y2="437.00" stroke="#666" stroke-width="0.7"/>
<text x="549.40" y="449.00" font-size="13" text-anchor="middle" font-weight="normal" >0.5</text>
<line x1="591.00" y1="435.60" x2="591.00" y2="437.00" stroke="#666" stroke-width="0.7"/>
<text x="591.00" y="449.00" font-size="13" text-anchor="middle" font-weight="normal" >1.0</text>
<line x1="632.60" y1="435.60" x2="632.60" y2="437.00" stroke="#666" stroke-width="0.7"/>
<text x="632.60" y="449.00" font-size="13" text-anchor="middle" font-weight="normal" >1.5</text>
<line x1="674.20" y1="435.60" x2="674.20" y2="437.00" stroke="#666" stroke-width="0.7"/>
<text x="674.20" y="449.00" font-size="13" text-anchor="middle" font-weight="normal" >2.0</text>
<text x="590.80" y="461.20" font-size="13" text-anchor="middle" font-weight="normal" >Aridity index</text>
<text x="499.70" y="260.30" font-size="26" text-anchor="start" font-weight="bold" fill="#000" stroke="#000" stroke-width="0.5">f</text>
<text x="0" y="0" font-size="13" text-anchor="middle" transform="translate(471.60,348.60) rotate(-90) scale(0.995,1)">diWUE/dCa (µmol mol<tspan dx="0.3" dy="-5.6" font-size="9.2">-1</tspan><tspan dx="0.6" dy="5.6"> yr</tspan><tspan dx="0.3" dy="-5.6" font-size="9.2">-1</tspan><tspan dx="1.0" dy="5.6">)</tspan></text></svg>
</body></html>
